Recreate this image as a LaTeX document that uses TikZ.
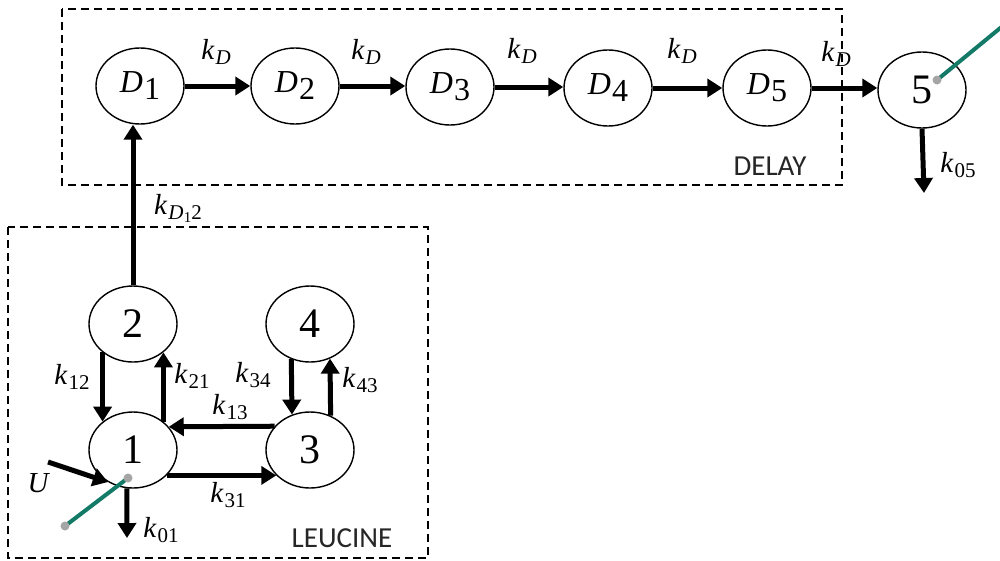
\RequirePackage{fix-cm}
\documentclass[tikz,border=0pt]{standalone}
\usepackage{fontspec}
\setmainfont{Liberation Serif}
\newfontfamily\labfont{Carlito}
\usetikzlibrary{arrows.meta,shapes.geometric}
\definecolor{teal1}{RGB}{18,122,102}
\definecolor{dotgray}{RGB}{165,165,165}
% rate label: italic letter with a lowered smaller subscript
\newcommand{\ratek}[2]{\textit{#1}\kern1pt\raisebox{-5pt}{\fontsize{21}{21}\selectfont #2}}
\newcommand{\dname}[1]{\textit{D}\kern1pt\raisebox{-7pt}{#1}}
\tikzset{
 comp/.style={ellipse, draw, line width=1.4pt, minimum width=88pt, minimum height=76pt, inner sep=0pt},
 flow/.style={line width=5pt, -{Triangle[length=15pt,width=18pt]}},
 box/.style={draw, line width=1.2pt, dash pattern=on 8pt off 5pt},
 dnum/.style={font=\fontsize{32}{32}\selectfont},
 cnum/.style={font=\fontsize{42}{42}\selectfont},
 rate/.style={font=\fontsize{29}{29}\selectfont, inner sep=0pt},
 tag/.style={font=\labfont\fontsize{29}{29}\selectfont, inner sep=0pt, text=black!85},
 probe/.style={line width=4pt, teal1},
 tipdot/.style={circle, fill=dotgray, inner sep=0pt, minimum size=9pt},
}
\begin{document}
\begin{tikzpicture}[x=1pt,y=-1pt]
\useasboundingbox (0,0) rectangle (1000,560);
\begin{scope}
\clip (0,0) rectangle (1000,560);
% boxes
\draw[box] (62,9) rectangle (842,185);
\draw[box] (8,227) rectangle (428,558);
\node[tag] (delay) at (770,166) {DELAY};
\node[tag] (leucine) at (342,538) {LEUCINE};
% delay chain
\node[comp,dnum] (D1) at (140,86) {\dname{1}};
\node[comp,dnum] (D2) at (295,86) {\dname{2}};
\node[comp,dnum] (D3) at (450,87) {\dname{3}};
\node[comp,dnum] (D4) at (608,88) {\dname{4}};
\node[comp,dnum] (D5) at (767,88) {\dname{5}};
\node[comp,cnum] (n5) at (922,90) {5};
% leucine compartments
\node[comp,cnum] (n2) at (133,324) {2};
\node[comp,cnum] (n4) at (310,324) {4};
\node[comp,cnum] (n1) at (133,450) {1};
\node[comp,cnum] (n3) at (310,450) {3};
% chain arrows (horizontal)
\draw[flow] (D1.east) -- (D2.west);
\draw[flow] (D2.east) -- (D2.east -| D3.west);
\draw[flow] (D3.east) -- (D3.east -| D4.west);
\draw[flow] (D4.east) -- (D5.west);
\draw[flow] (D5.east) -- (D5.east -| n5.west);
\node[rate] (kd1) at (216,52) {\ratek{k}{\textit{D}}};
\node[rate] (kd2) at (366,52) {\ratek{k}{\textit{D}}};
\node[rate] (kd3) at (522,51) {\ratek{k}{\textit{D}}};
\node[rate] (kd4) at (682,51) {\ratek{k}{\textit{D}}};
\node[rate] (kd5) at (836,54) {\ratek{k}{\textit{D}}};
% 2 -> D1
\draw[flow] (n2.north) -- (n2.north |- D1.south);
\node[rate] (kd12) at (178,208) {\ratek{k}{\textit{D}\kern0.5pt\raisebox{-3pt}{\fontsize{15}{15}\selectfont 1}2}};
% output of 5
\coordinate (out5) at (924,193);
\draw[flow] (n5.south) -- (out5);
\node[rate] (k05) at (958,165) {\ratek{k}{05}};
% leucine arrows
\draw[flow] (n2.223) -- (n1.137);
\node[rate] (k12) at (72,377) {\ratek{k}{12}};
\draw[flow] (n1.43) -- (n2.317);
\node[rate] (k21) at (192,376) {\ratek{k}{21}};
\draw[flow] (n4.242.6) -- (n3.117.4);
\node[rate] (k34) at (253,375) {\ratek{k}{34}};
\draw[flow] (n3.59.4) -- (n4.300.6);
\node[rate] (k43) at (360,380) {\ratek{k}{43}};
\draw[flow] (n3.146.7) -- (n1.33.3);
\node[rate] (k13) at (230,407) {\ratek{k}{13}};
\draw[flow] (n1.-37.1) -- (n3.217.1);
\node[rate] (k31) at (228,495) {\ratek{k}{31}};
% input U
\coordinate (uin) at (48,462);
\draw[flow] (uin) -- (n1.232);
\node[rate] (U) at (39,483) {\textit{U}};
% output k01
\coordinate (out1) at (127,538);
\draw[flow] (n1.261) -- (out1);
\node[rate] (k01) at (161,530) {\ratek{k}{01}};
% probes
\coordinate (p1a) at (128,478);
\coordinate (p1b) at (65,526);
\draw[probe] (p1a) -- (p1b);
\node[tipdot] (d1a) at (p1a) {};
\node[tipdot] (d1b) at (p1b) {};
\coordinate (p5a) at (937,80);
\coordinate (p5b) at (1010,20);
\draw[probe] (p5a) -- (p5b);
\node[tipdot] (d5a) at (p5a) {};
\end{scope}
\end{tikzpicture}
\end{document}
